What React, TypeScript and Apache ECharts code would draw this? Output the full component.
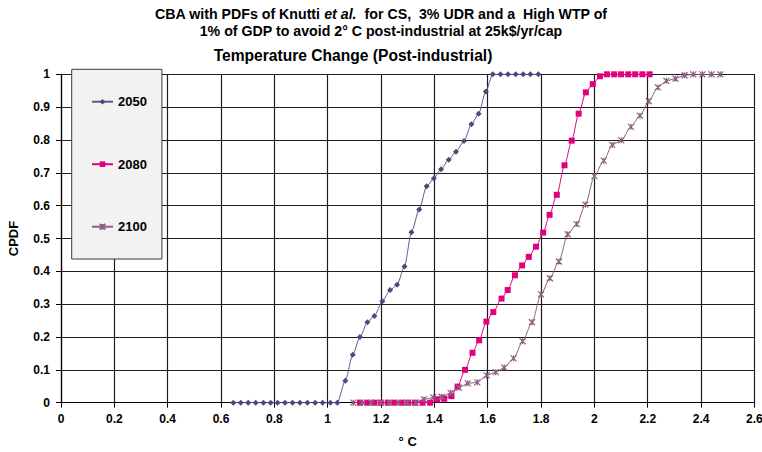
import React, { useEffect, useRef } from "react";
import * as echarts from "echarts";

// Temperature change (°C, post-industrial) and cumulative probability for each year
const temp2050 = [
  0.646, 0.674, 0.702, 0.73, 0.759, 0.786, 0.812, 0.84, 0.868, 0.896, 0.924, 0.953, 0.981, 1.01,
  1.036, 1.066, 1.094, 1.121, 1.149, 1.175, 1.205, 1.234, 1.26, 1.288, 1.314, 1.343, 1.371, 1.398,
  1.425, 1.454, 1.481, 1.511, 1.539, 1.566, 1.593, 1.619, 1.648, 1.676, 1.705, 1.733, 1.76, 1.79,
];
const cpdf2050 = [
  0, 0, 0, 0, 0, 0, 0, 0, 0, 0, 0, 0, 0, 0,
  0, 0.067, 0.146, 0.2, 0.245, 0.264, 0.309, 0.343, 0.359, 0.415, 0.519, 0.588, 0.659, 0.683,
  0.711, 0.74, 0.764, 0.797, 0.848, 0.88, 0.948, 1, 1, 1, 1, 1, 1, 1,
];

const temp2080 = [
  1.121, 1.149, 1.174, 1.199, 1.225, 1.25, 1.277, 1.302, 1.327, 1.356, 1.384, 1.411, 1.437, 1.464,
  1.487, 1.515, 1.543, 1.568, 1.595, 1.621, 1.652, 1.675, 1.702, 1.729, 1.754, 1.781, 1.808, 1.832,
  1.859, 1.888, 1.915, 1.941, 1.968, 1.994, 2.021, 2.047, 2.074, 2.1, 2.127, 2.153, 2.18, 2.207,
];
const cpdf2080 = [
  0, 0, 0, 0, 0, 0, 0, 0, 0, 0, 0, 0.01, 0.012, 0.02,
  0.049, 0.1, 0.152, 0.19, 0.247, 0.276, 0.317, 0.343, 0.388, 0.418, 0.444, 0.475, 0.518, 0.572,
  0.633, 0.723, 0.798, 0.88, 0.945, 0.97, 0.994, 1, 1, 1, 1, 1, 1, 1,
];

const temp2100 = [
  1.096, 1.13, 1.163, 1.197, 1.231, 1.264, 1.298, 1.33, 1.361, 1.396, 1.427, 1.461, 1.492, 1.525,
  1.561, 1.596, 1.63, 1.662, 1.697, 1.731, 1.766, 1.8, 1.833, 1.867, 1.9, 1.934, 1.966, 2.0,
  2.035, 2.067, 2.101, 2.137, 2.171, 2.204, 2.238, 2.27, 2.304, 2.338, 2.371, 2.405, 2.439, 2.472,
];
const cpdf2100 = [
  0, 0, 0, 0, 0, 0, 0, 0, 0.01, 0.016, 0.018, 0.03, 0.046, 0.059,
  0.062, 0.083, 0.093, 0.107, 0.135, 0.187, 0.245, 0.33, 0.379, 0.43, 0.513, 0.544, 0.603, 0.69,
  0.737, 0.785, 0.799, 0.84, 0.874, 0.918, 0.96, 0.98, 0.987, 0.997, 1, 1, 1, 1,
];

const FONT = '"Liberation Sans", Arial, sans-serif';
const ASTERISK = "path://M0,0L10,10M0,10L10,0M5,0L5,10";

const pairs = (xs: number[], ys: number[]) => xs.map((x, i) => [x, ys[i]]);

export default function App() {
  const ref = useRef<HTMLDivElement>(null);

  useEffect(() => {
    if (!ref.current) return;
    const chart = echarts.init(ref.current, null, { renderer: "svg" });

    const axisLabel = { color: "#000", fontFamily: FONT, fontWeight: "bold" as const, fontSize: 12 };

    chart.setOption({
      animation: false,
      backgroundColor: "#fff",
      grid: {
        left: 61,
        right: 7.6,
        top: 74.3,
        bottom: 49.3,
        containLabel: false,
        outerBoundsMode: "none",
      },
      graphic: [
        {
          type: "text",
          x: 381,
          y: 22,
          style: {
            text:
              "{b|CBA with PDFs of Knutti }{i|et al.}{b|  for CS,  3% UDR and a  High WTP of}\n{b|1% of GDP to avoid 2° C post-industrial at 25k$/yr/cap}",
            rich: {
              b: { fontFamily: FONT, fontWeight: "bold", fontSize: 14.2, fill: "#000", lineHeight: 17 },
              i: { fontFamily: FONT, fontWeight: "bold", fontStyle: "italic", fontSize: 14.2, fill: "#000", lineHeight: 17 },
            },
            textAlign: "center",
            textVerticalAlign: "middle",
          },
        },
        {
          type: "text",
          x: 353,
          y: 55,
          style: {
            text: "Temperature Change (Post-industrial)",
            font: `bold 15.6px ${FONT}`,
            fill: "#000",
            textAlign: "center",
            textVerticalAlign: "middle",
          },
        },
      ],
      legend: {
        left: 71.7,
        top: 69.3,
        orient: "vertical",
        backgroundColor: "#f2f2f2",
        borderColor: "#3a3a3a",
        borderWidth: 1,
        borderRadius: 0,
        padding: [25.4, 15, 25.3, 19.3],
        itemWidth: 21,
        itemHeight: 7,
        itemGap: 48.5,
        textStyle: { color: "#000", fontFamily: FONT, fontWeight: "bold", fontSize: 13, lineHeight: 14 },
        data: ["2050", "2080", "2100"],
        z: 10,
      },
      xAxis: {
        type: "value",
        min: 0,
        max: 2.6,
        interval: 0.2,
        name: "° C",
        nameLocation: "middle",
        nameGap: 32,
        nameTextStyle: { color: "#000", fontFamily: FONT, fontWeight: "bold", fontSize: 13 },
        axisLine: { onZero: false, lineStyle: { color: "#000", width: 1.2 } },
        axisTick: { show: true, length: 5, lineStyle: { color: "#000" } },
        axisLabel: { ...axisLabel, margin: 10 },
        splitLine: { show: true, lineStyle: { color: "#1e1e1e", width: 1.2 } },
      },
      yAxis: {
        type: "value",
        min: 0,
        max: 1,
        interval: 0.1,
        name: "CPDF",
        nameLocation: "middle",
        nameGap: 41,
        nameRotate: 90,
        nameTextStyle: { color: "#000", fontFamily: FONT, fontWeight: "bold", fontSize: 13 },
        axisLine: { show: true, lineStyle: { color: "#000", width: 1.2 } },
        axisTick: { show: true, length: 5, lineStyle: { color: "#000" } },
        axisLabel: { ...axisLabel, margin: 11 },
        splitLine: { show: true, lineStyle: { color: "#1e1e1e", width: 1.2 } },
      },
      series: [
        {
          name: "2050",
          type: "line",
          data: pairs(temp2050, cpdf2050),
          symbol: "diamond",
          symbolSize: 6,
          smooth: 0.25,
          smoothMonotone: "x",
          lineStyle: { color: "#5a5a8a", width: 1 },
          itemStyle: { color: "#4a4a7a" },
        },
        {
          name: "2080",
          type: "line",
          data: pairs(temp2080, cpdf2080),
          symbol: "rect",
          symbolSize: 6,
          smooth: 0.25,
          smoothMonotone: "x",
          lineStyle: { color: "#e2007f", width: 1 },
          itemStyle: { color: "#e2007f" },
        },
        {
          name: "2100",
          type: "line",
          data: pairs(temp2100, cpdf2100),
          symbol: ASTERISK,
          symbolSize: 6,
          smooth: 0.25,
          smoothMonotone: "x",
          lineStyle: { color: "#8c5f7e", width: 1 },
          itemStyle: { color: "#8c5f7e", borderColor: "#8c5f7e", borderWidth: 1.2 },
        },
      ],
    });

    return () => chart.dispose();
  }, []);

  return (
    <div
      ref={ref}
      style={{ position: "fixed", left: 0, top: 0, width: 762, height: 452, background: "#fff" }}
    />
  );
}
